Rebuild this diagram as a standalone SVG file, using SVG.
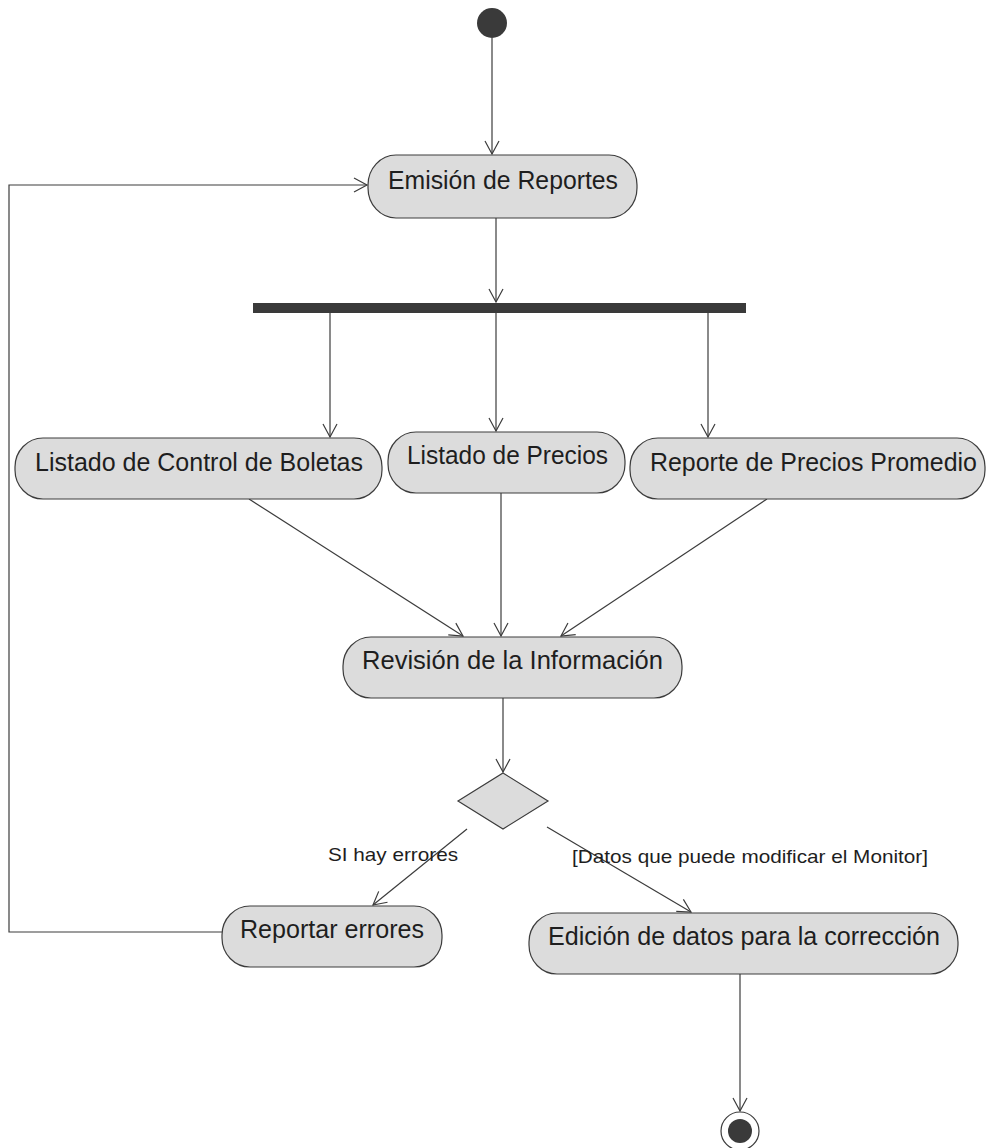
<svg xmlns="http://www.w3.org/2000/svg" width="986" height="1148" viewBox="0 0 986 1148">
<style>
.node rect{fill:#dcdcdc;stroke:#3c3c3c;stroke-width:1.2}
.lbl{font-family:"Liberation Sans",Arial,sans-serif;font-size:25.5px;fill:#1e1e1e}
.small{font-family:"Liberation Sans",Arial,sans-serif;font-size:18.5px;fill:#1e1e1e}
.conn{fill:none;stroke:#3c3c3c;stroke-width:1.2}
</style>
<defs>
<marker id="arr" markerUnits="userSpaceOnUse" markerWidth="16" markerHeight="16" viewBox="-14 -8 16 16" refX="0" refY="0" orient="auto">
<path d="M-13,-7 L0,0 L-13,7" fill="none" stroke="#3c3c3c" stroke-width="1.2"/>
</marker>
</defs>
<rect width="986" height="1148" fill="#ffffff"/>
<g id="connectors">
<line class="conn" x1="492" y1="38" x2="492" y2="154" marker-end="url(#arr)"/>
<line class="conn" x1="496" y1="218" x2="496" y2="302" marker-end="url(#arr)"/>
<line class="conn" x1="330" y1="313" x2="330" y2="437" marker-end="url(#arr)"/>
<line class="conn" x1="496" y1="313" x2="496" y2="431" marker-end="url(#arr)"/>
<line class="conn" x1="708" y1="313" x2="708" y2="437" marker-end="url(#arr)"/>
<line class="conn" x1="249" y1="499" x2="463" y2="636" marker-end="url(#arr)"/>
<line class="conn" x1="501" y1="493" x2="501" y2="636" marker-end="url(#arr)"/>
<line class="conn" x1="767" y1="499" x2="561" y2="636" marker-end="url(#arr)"/>
<line class="conn" x1="503" y1="698" x2="503" y2="772" marker-end="url(#arr)"/>
<line class="conn" x1="467" y1="829" x2="373" y2="905" marker-end="url(#arr)"/>
<line class="conn" x1="547" y1="827" x2="691" y2="912" marker-end="url(#arr)"/>
<polyline class="conn" points="222,932 9,932 9,185 367,185" marker-end="url(#arr)"/>
<line class="conn" x1="740" y1="974" x2="740" y2="1111" marker-end="url(#arr)"/>
<text class="small" x="328" y="861" textLength="130" lengthAdjust="spacingAndGlyphs">SI hay errores</text>
<text class="small" x="572" y="863" textLength="356" lengthAdjust="spacingAndGlyphs">[Datos que puede modificar el Monitor]</text>
</g>
<g id="start"><circle cx="492" cy="23" r="15" fill="#3a3a3a"/></g>
<g id="emision" class="node"><rect x="368" y="155" width="269" height="63" rx="28" ry="30"/><text class="lbl" x="388" y="189" textLength="230" lengthAdjust="spacingAndGlyphs">Emisión de Reportes</text></g>
<g id="fork"><rect x="253" y="303" width="493" height="10" fill="#3a3a3a"/></g>
<g id="listadoControl" class="node"><rect x="15" y="438" width="367" height="61" rx="28" ry="29"/><text class="lbl" x="35" y="471" textLength="328" lengthAdjust="spacingAndGlyphs">Listado de Control de Boletas</text></g>
<g id="listadoPrecios" class="node"><rect x="388" y="432" width="237" height="61" rx="28" ry="29"/><text class="lbl" x="407" y="464" textLength="201" lengthAdjust="spacingAndGlyphs">Listado de Precios</text></g>
<g id="reportePromedio" class="node"><rect x="630" y="438" width="355" height="61" rx="28" ry="29"/><text class="lbl" x="650" y="471" textLength="327" lengthAdjust="spacingAndGlyphs">Reporte de Precios Promedio</text></g>
<g id="revision" class="node"><rect x="343" y="637" width="339" height="61" rx="28" ry="29"/><text class="lbl" x="362" y="669" textLength="301" lengthAdjust="spacingAndGlyphs">Revisión de la Información</text></g>
<g id="decision"><polygon points="503,773 548,801 503,829 458,801" fill="#dcdcdc" stroke="#3c3c3c" stroke-width="1.2"/></g>
<g id="reportar" class="node"><rect x="222" y="906" width="220" height="61" rx="28" ry="29"/><text class="lbl" x="240" y="938" textLength="184" lengthAdjust="spacingAndGlyphs">Reportar errores</text></g>
<g id="edicion" class="node"><rect x="529" y="913" width="429" height="61" rx="28" ry="29"/><text class="lbl" x="548" y="945" textLength="392" lengthAdjust="spacingAndGlyphs">Edición de datos para la corrección</text></g>
<g id="end"><circle cx="740" cy="1131" r="19" fill="#ffffff" stroke="#3c3c3c" stroke-width="1.2"/><circle cx="740" cy="1131" r="12" fill="#3a3a3a"/></g>
</svg>
